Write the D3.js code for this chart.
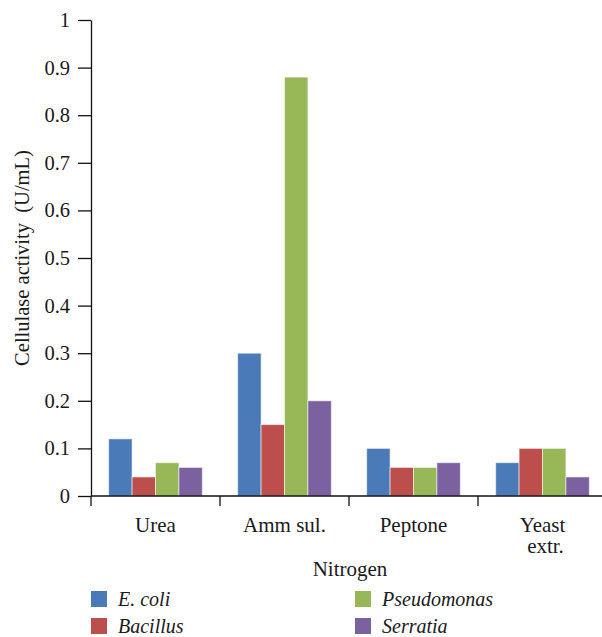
<!DOCTYPE html>
<html>
<head>
<meta charset="utf-8">
<script src="https://cdn.jsdelivr.net/npm/d3@7/dist/d3.min.js"></script>
<style>
  html, body { margin: 0; padding: 0; background: #fff; }
  svg { display: block; }
</style>
</head>
<body>
<svg id="chart" width="602" height="637"></svg>
<script>
// ---- data ----
const categories = ["Urea", "Amm sul.", "Peptone", "Yeast extr."];
const categoryLines = [["Urea"], ["Amm sul."], ["Peptone"], ["Yeast", "extr."]];
const series = ["E. coli", "Bacillus", "Pseudomonas", "Serratia"];
const ecoli = [0.12, 0.30, 0.10, 0.07];
const bacillus = [0.04, 0.15, 0.06, 0.10];
const pseudomonas = [0.07, 0.88, 0.06, 0.10];
const serratia = [0.06, 0.20, 0.07, 0.04];
const yTicks = [0, 0.1, 0.2, 0.3, 0.4, 0.5, 0.6, 0.7, 0.8, 0.9, 1];
const yTickLabels = ["0", "0.1", "0.2", "0.3", "0.4", "0.5", "0.6", "0.7", "0.8", "0.9", "1"];
const colors = ["#4A7AB7", "#BC4E4B", "#98B757", "#7C61A0"];
const yTitle = "Cellulase activity\u00a0 (U/mL)";
const xTitle = "Nitrogen";

const values = [ecoli, bacillus, pseudomonas, serratia];
const FONT = '"Liberation Serif", "Times New Roman", serif';
const INK = "#1a1a1a";

const svg = d3.select("#chart");
const mLeft = 91, mRight = 607, mTop = 20, mBottom = 496;

const x0 = d3.scaleBand().domain(categories).range([mLeft, mRight]).paddingInner(0).paddingOuter(0);
const x1 = d3.scaleBand().domain(series).range([0, x0.bandwidth()]).paddingInner(0).paddingOuter(0.755);
const y = d3.scaleLinear().domain([0, 1]).range([mBottom, mTop]);
const color = d3.scaleOrdinal().domain(series).range(colors);

// bars
const groups = svg.append("g").selectAll("g").data(categories).join("g")
  .attr("transform", d => `translate(${x0(d)},0)`);
groups.selectAll("rect")
  .data((c, ci) => series.map((s, si) => ({ s, v: values[si][ci] })))
  .join("rect")
  .attr("x", d => x1(d.s))
  .attr("width", x1.bandwidth())
  .attr("y", d => y(d.v))
  .attr("height", d => y(0) - y(d.v))
  .attr("fill", d => color(d.s))
  .attr("stroke", "#ffffff")
  .attr("stroke-opacity", 0.55)
  .attr("stroke-width", 1);

// y axis
const yAxis = d3.axisLeft(y).tickValues(yTicks)
  .tickFormat((d, i) => yTickLabels[i]).tickSize(13).tickPadding(8).tickSizeOuter(0);
const gy = svg.append("g").attr("transform", `translate(${mLeft},0)`).call(yAxis);
gy.select(".domain").attr("stroke", "#111").attr("stroke-width", 1.3);
gy.selectAll(".tick line").attr("stroke", "#111").attr("stroke-width", 1.3);
gy.selectAll(".tick text")
  .style("font-family", FONT).style("font-size", "20.5px").style("fill", INK);

// x axis line and boundary ticks
svg.append("line").attr("x1", mLeft).attr("x2", mRight).attr("y1", mBottom).attr("y2", mBottom)
  .attr("stroke", "#111").attr("stroke-width", 1.5);
svg.append("g").selectAll("line").data(categories).join("line")
  .attr("x1", d => x0(d)).attr("x2", d => x0(d))
  .attr("y1", mBottom).attr("y2", mBottom + 10)
  .attr("stroke", "#111").attr("stroke-width", 1.3);

// x labels
const xl = svg.append("g").selectAll("text").data(categories).join("text")
  .attr("x", d => x0(d) + x0.bandwidth() / 2)
  .attr("y", mBottom + 36)
  .attr("text-anchor", "middle")
  .style("font-family", FONT).style("font-size", "21px").style("fill", INK);
xl.selectAll("tspan").data((d, i) => categoryLines[i].map((t, j) => ({ t, j })))
  .join("tspan")
  .attr("x", function() { return d3.select(this.parentNode).attr("x"); })
  .attr("dx", d => d.j > 0 ? 3 : 0)
  .attr("dy", d => d.j > 0 ? 20.5 : 0)
  .text(d => d.t);

// axis titles
svg.append("text")
  .attr("transform", `translate(29,${(mTop + mBottom) / 2}) rotate(-90)`)
  .attr("text-anchor", "middle")
  .style("font-family", FONT).style("font-size", "20.5px").style("fill", INK)
  .text(yTitle);
svg.append("text")
  .attr("x", (mLeft + mRight) / 2 + 1)
  .attr("y", 576)
  .attr("text-anchor", "middle")
  .style("font-family", FONT).style("font-size", "21px").style("fill", INK)
  .text(xTitle);

// legend
const legendPos = [[91, 591], [91, 618], [355, 591], [355, 618]];
const lg = svg.append("g").selectAll("g").data(series).join("g")
  .attr("transform", (d, i) => `translate(${legendPos[i][0]},${legendPos[i][1]})`);
lg.append("rect").attr("width", 16).attr("height", 16).attr("fill", d => color(d));
lg.append("text").attr("x", 27).attr("y", 15)
  .style("font-family", FONT).style("font-size", "20px").style("font-style", "italic").style("fill", INK)
  .text(d => d);
</script>
</body>
</html>
